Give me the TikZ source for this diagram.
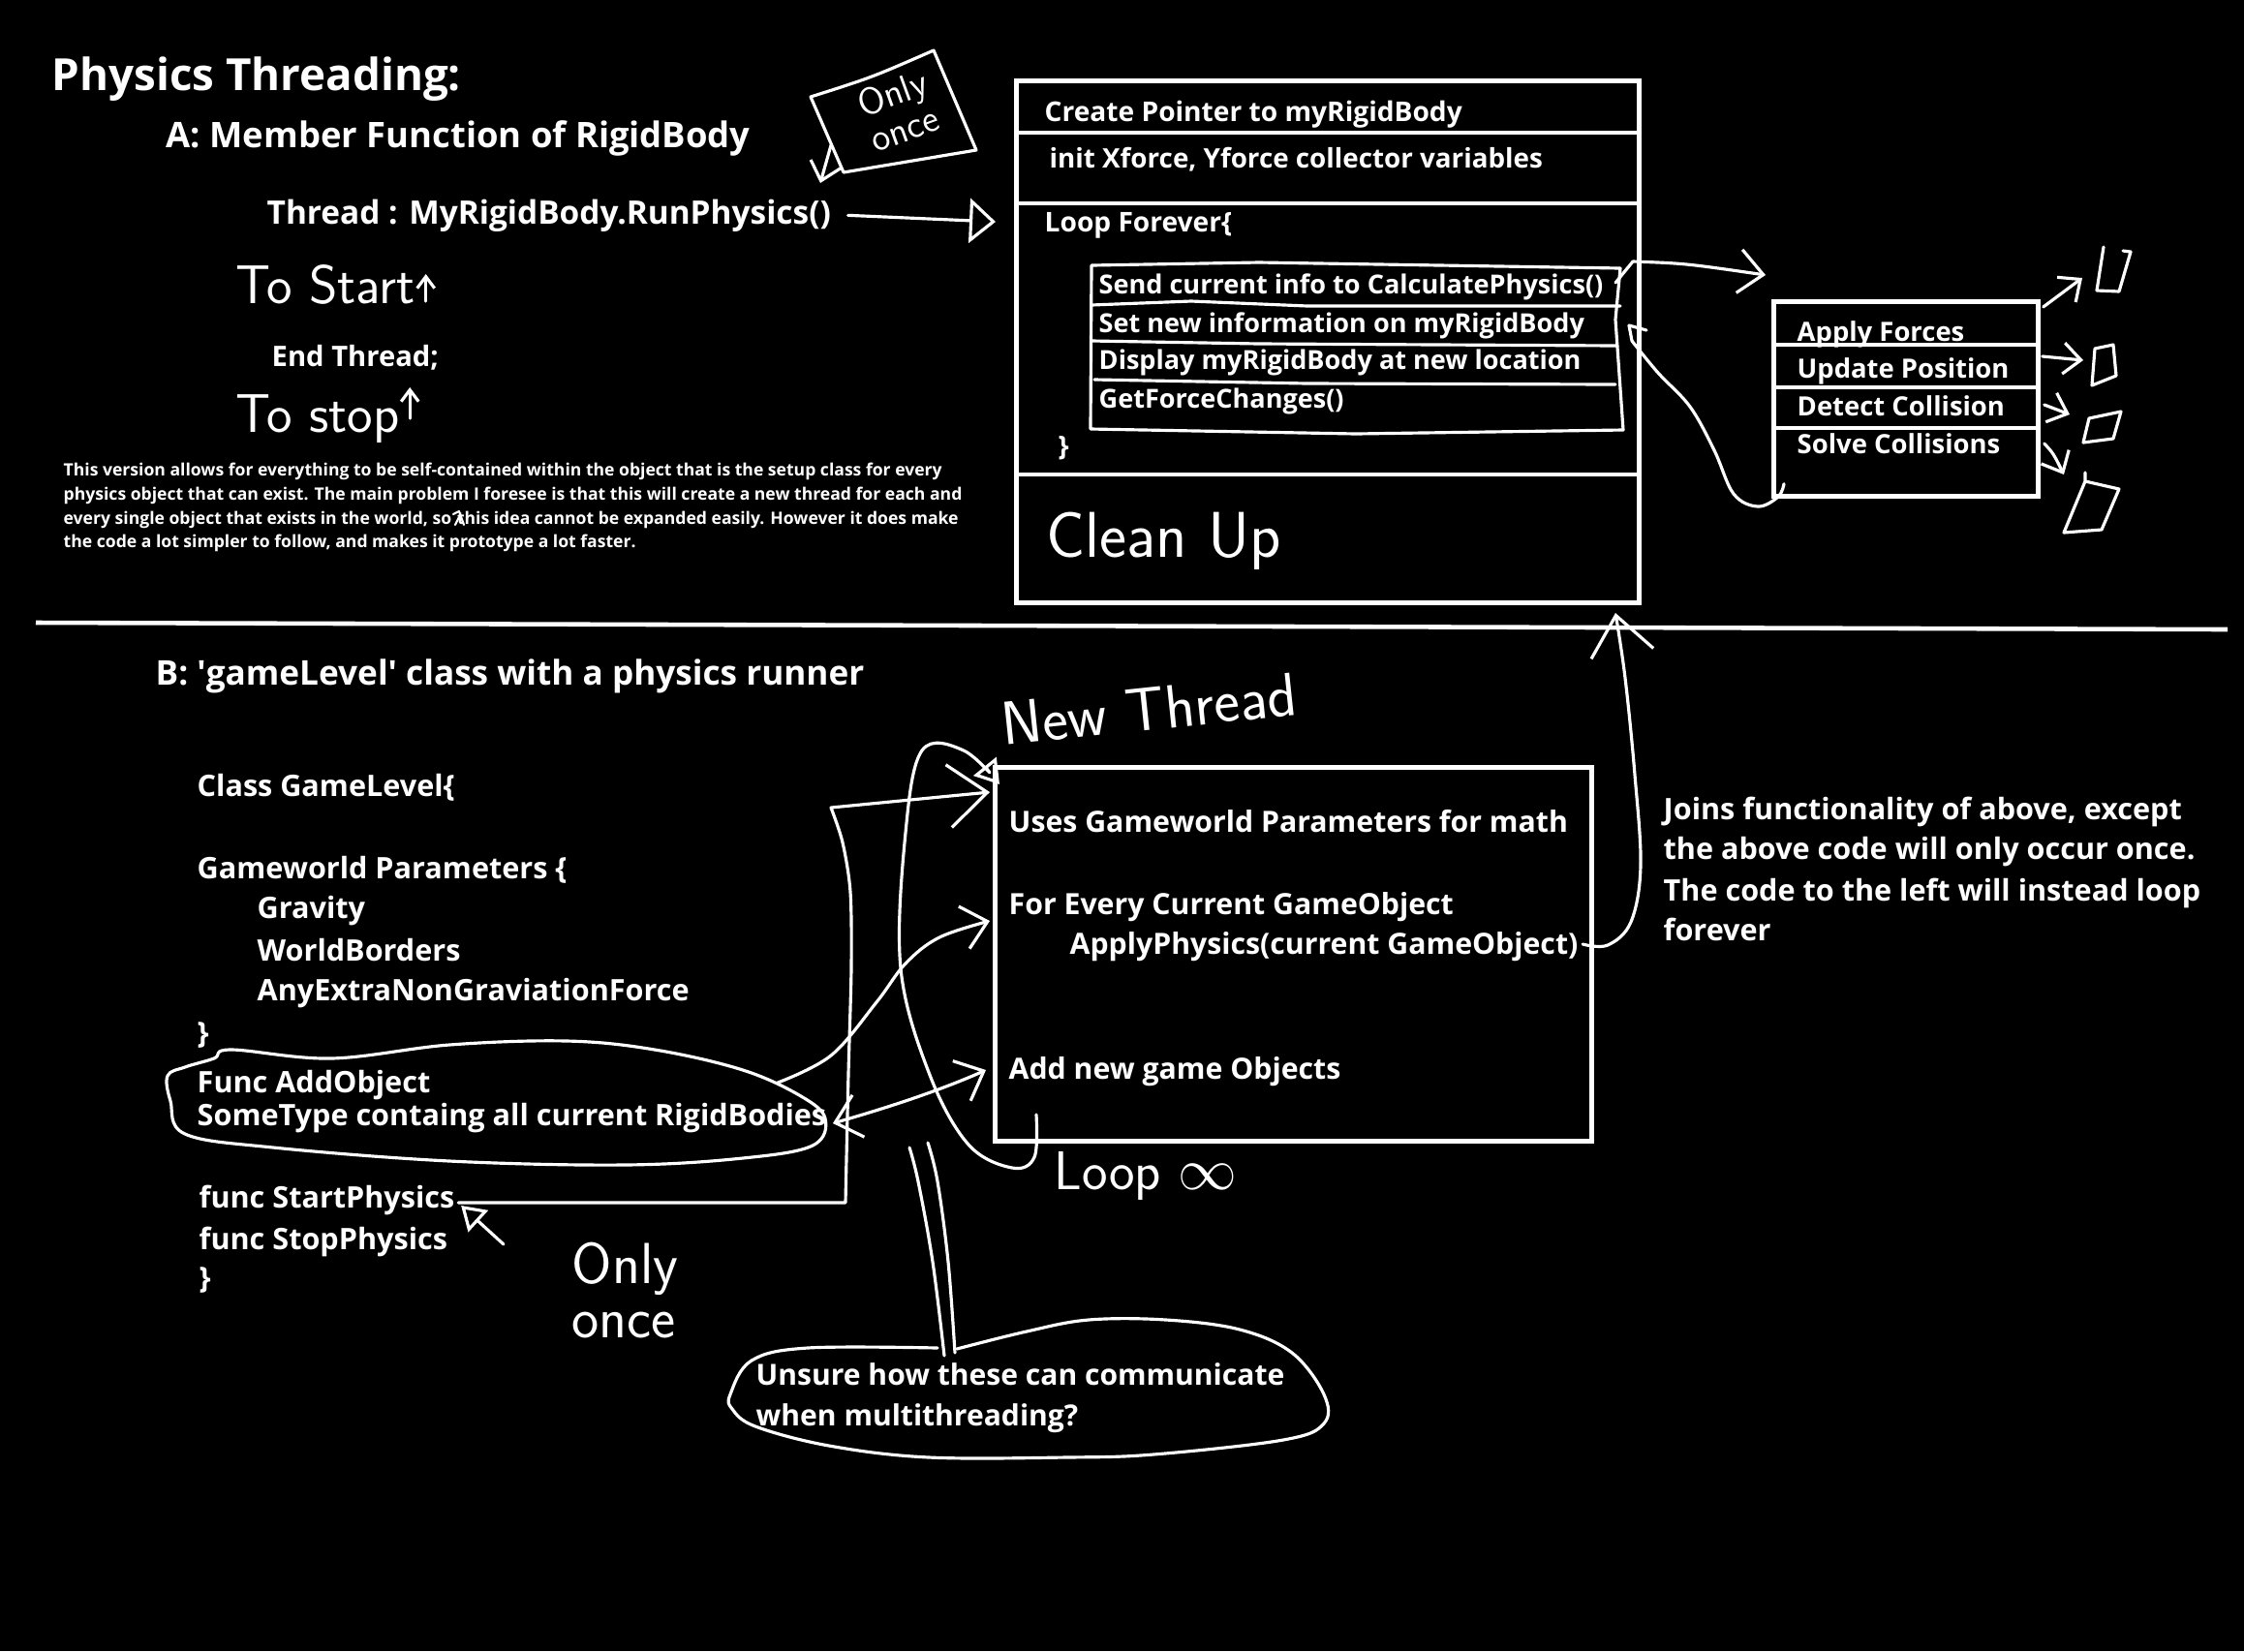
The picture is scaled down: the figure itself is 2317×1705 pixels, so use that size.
\documentclass[tikz,border=0pt]{standalone}
\usepackage{fontspec}
\setmainfont{Open Sans}
\usetikzlibrary{arrows.meta}

\begin{document}
\begin{tikzpicture}[x=0.01cm, y=-0.01cm,
    codetxt/.style={text=white, inner sep=0pt, anchor=base west, font=\bfseries\fontsize{#1}{#1}\selectfont},
    codetxt/.default=8,
    hand/.style={text=white, inner sep=0pt, font=\sffamily\fontsize{#1}{#1}\selectfont},
    hand/.default=17,
    ink/.style={draw=white, line width=1.3pt},
    pen/.style={draw=white, line width=0.9pt, line cap=round, line join=round},
    tinybarb/.style={-{Straight Barb[length=1.2mm, width=1.8mm]}},
    smallbarb/.style={-{Straight Barb[length=1.8mm, width=3.2mm]}},
    midbarb/.style={-{Straight Barb[length=2.5mm, width=4.5mm]}},
    bigbarb/.style={-{Straight Barb[length=4mm, width=6.5mm]}},
    openhead/.style={-{Triangle[open, length=2.7mm, width=4.6mm]}},
    smallopen/.style={-{Triangle[open, length=2.4mm, width=3mm]}}]
  \useasboundingbox (0,0) rectangle (2317,1705);
  \fill[black] (0,0) rectangle (2317,1705);

  % Part A: headings
  \node[codetxt=13] (title) at (53,93) {Physics Threading:};
  \node[codetxt=10.35] (partA) at (171,152) {A: Member Function of RigidBody};
  \node[codetxt=9.5] (threadcall) at (275,231) {Thread : MyRigidBody.RunPhysics()};
  \node[codetxt=8.3] (endthread) at (280,378) {End Thread;};
  \node[hand=16, anchor=base west] (tostart) at (243,313) {To Start};
  \draw[pen, tinybarb] ([shift={(10,-2)}]tostart.base east) -- ([shift={(10,-30)}]tostart.base east);
  \node[hand=16, anchor=base west] (tostop) at (243,446) {To stop};
  \draw[pen, tinybarb] ([shift={(10,-14)}]tostop.base east) -- ([shift={(10,-46)}]tostop.base east);

  % only once note
  \node[hand=11, rotate=20, align=left] (oncetop) at (928,114) {Only\\once};
  \draw[pen] (837,100) .. controls (900,80) .. (964,52) -- (1008,155) -- (871,178) -- cycle;
  \draw[pen, smallbarb] (858,150) -- (847,189);

  % thread call arrow
  \coordinate (runin) at (1028,229);
  \draw[pen, openhead] ([xshift=0.17cm]threadcall.east) -- (runin);

  % note on part A
  \node[codetxt=5] (para1) at (65,491) {This version allows for everything to be self-contained within the object that is the setup class for every};
  \node[codetxt=5] (para2) at (65,516) {physics object that can exist. The main problem I foresee is that this will create a new thread for each and};
  \node[codetxt=5] (para3) at (65,541) {every single object that exists in the world, so\,\,this idea cannot be expanded easily. However it does make};
  \node[codetxt=5] (para4) at (65,565) {the code a lot simpler to follow, and makes it prototype a lot faster.};
  \draw[pen, line width=0.6pt] (468,531) -- (474,528) -- (479,542) (474,534) -- (470,542);

  % RunPhysics box
  \node[ink, minimum width=6.43cm, minimum height=5.39cm, anchor=north west, inner sep=0pt] (runbox) at (1047,81) {};
  \draw[ink] (1047,137) -- (1690,137);
  \draw[ink] (1047,210) -- (1690,210);
  \draw[ink] (1047,490) -- (1690,490);
  \node[codetxt] (pointer) at (1078,125) {Create Pointer to myRigidBody};
  \node[codetxt=7.9] (initvars) at (1083,173) {init Xforce, Yforce collector variables};
  \node[codetxt] (loophead) at (1078,239) {Loop Forever\{};
  \node[codetxt=7.7] (sendinfo) at (1134,303) {Send current info to CalculatePhysics()};
  \node[codetxt=7.7] (setinfo) at (1134,343) {Set new information on myRigidBody};
  \node[codetxt=7.7] (display) at (1134,381) {Display myRigidBody at new location};
  \node[codetxt=7.7] (getforce) at (1134,421) {GetForceChanges()};
  \node[codetxt] (loopend) at (1092,470) {\}};
  \draw[pen] (1127,274) -- (1300,271) -- (1673,277) -- (1668,330) -- (1676,444) -- (1400,448) -- (1126,443) -- cycle;
  \draw[pen] (1127,315) -- (1230,311) -- (1350,316) -- (1673,316);
  \draw[pen] (1127,352) -- (1300,355) -- (1670,357);
  \draw[pen] (1130,392) -- (1350,396) -- (1668,397);
  \node[hand=19, anchor=base west] (cleanup) at (1080,575) {Clean Up};

  % physics steps box
  \node[ink, minimum width=2.73cm, minimum height=2.01cm, anchor=north west, inner sep=0pt] (stepsbox) at (1829,309) {};
  \draw[ink] (1829,356) -- (2102,356);
  \draw[ink] (1829,400) -- (2102,400);
  \draw[ink] (1829,442) -- (2102,442);
  \node[codetxt=7.8] (applyf) at (1855,352) {Apply Forces};
  \node[codetxt=7.8] (updpos) at (1855,390) {Update Position};
  \node[codetxt=7.8] (detcol) at (1855,429) {Detect Collision};
  \node[codetxt=7.8] (solcol) at (1855,468) {Solve Collisions};
  \coordinate (sendout) at (1668,292);
  \coordinate (stepsin) at (1823,284);
  \draw[pen, midbarb] (sendout) -- (1686,270) .. controls (1740,272) .. (stepsin);
  \draw[pen] (1700,341) -- (1682,336) -- (1685,352);
  \draw[pen] plot[smooth, tension=0.6] coordinates {(1685,352) (1712,385) (1745,420) (1770,465) (1790,510) (1815,523) (1836,513) ([shift={(13,-15)}]stepsbox.south west)};
  \draw[pen, smallbarb] ([shift={(3,8)}]stepsbox.north east) -- (2150,287);
  \draw[pen] (2172,255) -- (2165,300) -- (2188,301) -- (2200,260) -- (2192,259);
  \draw[pen, smallbarb] ([shift={(2,59)}]stepsbox.north east) -- (2151,372);
  \draw[pen] (2163,360) -- (2182,356) -- (2185,388) -- (2160,398) -- cycle;
  \draw[pen, smallbarb] ([shift={(4,109)}]stepsbox.north east) -- (2137,428);
  \draw[pen] (2157,432) -- (2190,425) -- (2182,453) -- (2151,457) -- cycle;
  \draw[pen, smallbarb] ([shift={(4,149)}]stepsbox.north east) .. controls (2120,468) .. (2131,490);
  \draw[pen] (2153,488) -- (2153,497) -- (2188,505) -- (2170,547) -- (2131,550) -- (2153,497);

  % separator
  \draw[ink] (37,643) -- (2300,650);

  % Part B: gameLevel class
  \node[codetxt=10] (partB) at (160,707) {B: \textquotesingle gameLevel\textquotesingle{} class with a physics runner};
  \node[codetxt=8.7] (classhead) at (203,822) {Class GameLevel\{};
  \node[codetxt=8.7] (params) at (203,907) {Gameworld Parameters \{};
  \node[codetxt=8.7] (gravity) at (265,948) {Gravity};
  \node[codetxt=8.7] (borders) at (265,992) {WorldBorders};
  \node[codetxt=8.7] (extraforce) at (265,1033) {AnyExtraNonGraviationForce};
  \node[codetxt=8.7] (paramsend) at (203,1077) {\}};
  \node[codetxt=8.7] (addobj) at (203,1128) {Func AddObject};
  \node[codetxt=8.7] (bodies) at (203,1162) {SomeType containg all current RigidBodies};
  \node[codetxt=8.7] (startphys) at (205,1247) {func StartPhysics};
  \node[codetxt=8.7] (stopphys) at (205,1290) {func StopPhysics};
  \node[codetxt=8.7] (classend) at (205,1330) {\}};
  \draw[pen] plot[smooth cycle, tension=0.6] coordinates {(221,1093) (239,1084) (342,1093) (464,1079) (585,1075) (676,1084) (767,1105) (827,1132) (852,1155) (839,1183) (767,1196) (645,1203) (464,1199) (282,1185) (191,1171) (176,1137) (173,1111) (191,1102)};

  % new thread box
  \node[ink, minimum width=6.16cm, minimum height=3.86cm, anchor=north west, inner sep=0pt] (threadbox) at (1025,790) {};
  \node[codetxt=8.6] (usesparams) at (1041,859) {Uses Gameworld Parameters for math};
  \node[codetxt=8.6] (everyobj) at (1041,944) {For Every Current GameObject};
  \node[codetxt=8.6] (applyphys) at (1104,985) {ApplyPhysics(current GameObject)};
  \node[codetxt=8.6] (addnew) at (1041,1114) {Add new game Objects};
  \node[hand=18, rotate=6, anchor=base west] (newthread) at (1036,770) {New Thread};
  \node[hand=16, anchor=base west] (loopinf) at (1088,1228) {Loop $\infty$};

  % joins note
  \node[codetxt=8.7] (joins1) at (1717,846) {Joins functionality of above, except};
  \node[codetxt=8.7] (joins2) at (1717,887) {the above code will only occur once.};
  \node[codetxt=8.7] (joins3) at (1717,930) {The code to the left will instead loop};
  \node[codetxt=8.7] (joins4) at (1717,971) {forever};

  % connectors of part B
  \coordinate (runout) at (1668,633);
  \draw[pen, bigbarb] plot[smooth, tension=0.6] coordinates {([shift={(4,-10)}]applyphys.base east) (1660,976) (1684,952) (1694,894) (1688,800) (1678,700) (runout)};
  \coordinate (startin) at (1022,818);
  \draw[pen, bigbarb] ([shift={(3,-5)}]startphys.base east) -- plot[smooth, tension=0.5] coordinates {(873,1242) (876,1109) (879,999) (878,921) (870,870) (858,834)} -- (startin);
  \coordinate (addout) at (803,1118);
  \coordinate (addin) at (1022,951);
  \draw[pen, midbarb] plot[smooth, tension=0.6] coordinates {(addout) (858,1090) (905,1035) (935,995) (970,968) (addin)};
  \coordinate (newin) at (1018,1105);
  \draw[pen, {Straight Barb[length=2.5mm, width=4.5mm]}-{Straight Barb[length=2.5mm, width=4.5mm]}] ([shift={(6,-2)}]bodies.base east) .. controls (930,1140) and (980,1122) .. (newin);
  \draw[pen, smallopen] plot[smooth, tension=0.6] coordinates {(1070,1151) (1068,1195) (1045,1206) (1000,1182) (960,1110) (930,1000) (935,860) (952,775) (995,775) (1032,810)};

  % only once note, part B
  \node[hand, align=left, anchor=north west, font=\sffamily\fontsize{17}{16}\selectfont] (oncebottom) at (590,1282) {Only\\once};
  \coordinate (onceout) at (520,1285);
  \draw[pen, smallopen] (onceout) -- ([shift={(6,-2)}]startphys.base east);

  % question bubble
  \node[codetxt=8.55] (unsure1) at (780,1430) {Unsure how these can communicate};
  \node[codetxt=8.55] (unsure2) at (780,1472) {when multithreading?};
  \draw[pen] plot[smooth, tension=0.6] coordinates {(939,1185) (948,1220) (963,1303) (975,1400)};
  \draw[pen] plot[smooth, tension=0.6] coordinates {(958,1180) (968,1220) (979,1303) (986,1397)};
  \draw[pen] plot[smooth, tension=0.6] coordinates {(988,1393) (1060,1375) (1124,1363) (1204,1363) (1280,1373) (1334,1397) (1367,1440) (1367,1470) (1325,1487) (1191,1502) (1102,1505) (959,1505) (856,1493) (780,1473) (756,1455) (754,1440) (776,1405) (834,1392) (968,1392)};
\end{tikzpicture}
\end{document}
